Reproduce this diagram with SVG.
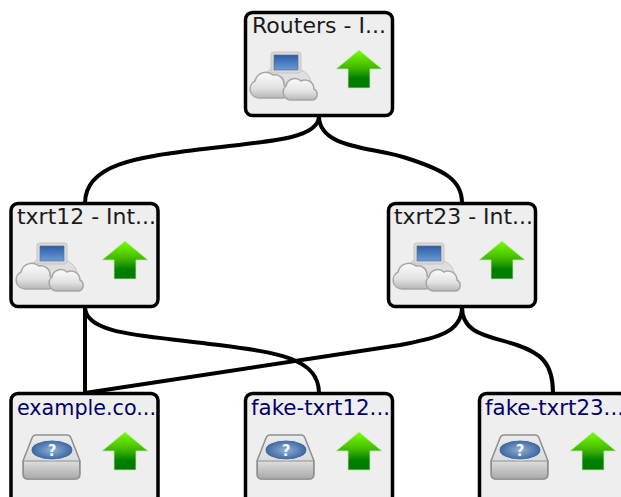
<svg xmlns="http://www.w3.org/2000/svg" width="621" height="497" viewBox="0 0 621 497">
<style>
.box{fill:#eeeeee;stroke:#000;stroke-width:3.500}
.t{font-family:"DejaVu Sans",Verdana,sans-serif;font-size:20.500px;fill:#1a1a1a}
.l{fill:#000066}
.c{fill:none;stroke:#000;stroke-width:4}
</style>
<defs>
<linearGradient id="g" x1="0" y1="0" x2="0" y2="1"><stop offset="0" stop-color="#77ff00"/><stop offset=".45" stop-color="#44bb00"/><stop offset=".75" stop-color="#007f00"/><stop offset="1" stop-color="#007a00"/></linearGradient>
<linearGradient id="sc" x1="0" y1="0" x2="0" y2="1"><stop offset="0" stop-color="#2a5ea8"/><stop offset="1" stop-color="#6a9ad6"/></linearGradient>
<linearGradient id="cl" x1="0" y1="0" x2="0" y2="1"><stop offset="0" stop-color="#fbfbfb"/><stop offset=".6" stop-color="#e2e2e2"/><stop offset="1" stop-color="#b8b8b8"/></linearGradient>
<linearGradient id="dk" x1="0" y1="0" x2="0" y2="1"><stop offset="0" stop-color="#ececec"/><stop offset="1" stop-color="#d0d0d0"/></linearGradient>
<linearGradient id="dp" x1="0" y1="0" x2="0" y2="1"><stop offset="0" stop-color="#dedede"/><stop offset="1" stop-color="#a8a8a8"/></linearGradient>
<radialGradient id="dq" cx=".5" cy=".5" r=".6"><stop offset="0" stop-color="#8fb0d8"/><stop offset="1" stop-color="#2a568f"/></radialGradient>
<g id="arrow"><path d="M0 0L23 19H11V38H-11V19H-23Z" fill="url(#g)" stroke="#c8e8b0" stroke-width=".8"/></g>
<g id="net">
<path d="M14 24Q18 17 24 18H46Q56 19 60 30L56 40H14Z" fill="#dfdfdf" stroke="#c2c2c2"/>
<rect x="20" y="1" width="30" height="21" rx="2.500" fill="#d8d8d8" stroke="#c6c6c6"/>
<rect x="23" y="4" width="24" height="15" fill="url(#sc)" stroke="#5a6c82" stroke-width=".6"/>
<path d="M8 47A9 9 0 0 1 4 30A11 11 0 0 1 22 24A9 9 0 0 1 33 34A7 7 0 0 1 32 47Z" fill="url(#cl)" stroke="#a6a6a6" stroke-width="1.500"/>
<path d="M39 49A8 8 0 0 1 35 35A9 9 0 0 1 50 30A9 9 0 0 1 63 38A6 6 0 0 1 62 49Z" fill="url(#cl)" stroke="#a6a6a6" stroke-width="1.500"/>
</g>
<g id="disk">
<path d="M13 0H44Q47 0 48 3L57 26V39Q57 44 52 44H5Q0 44 0 39V26L9 3Q10 0 13 0Z" fill="url(#dk)" stroke="#8e8e8e" stroke-width="1.500"/>
<path d="M0.500 26H56.500V39Q56.500 44 52 44H5Q0.500 44 0.500 39Z" fill="url(#dp)" stroke="#8e8e8e"/>
<ellipse cx="29" cy="15" rx="21" ry="10" fill="url(#dq)" stroke="#e4e9ef"/>
<text x="29" y="21" text-anchor="middle" font-family="'DejaVu Sans',sans-serif" font-weight="bold" font-size="15" fill="#f4f4f4">?</text>
</g>
</defs>
<g id="connectors">
<path class="c" d="M319 116C319 138 275 141 203 149C140 157 85 163 85 203"/>
<path class="c" d="M319 116C319 148 370 147 403 157C445 170 462 180 462 203"/>
<path class="c" d="M85 307C85 335 150 336 203 343C270 352 319 355 319 393"/>
<path class="c" d="M85 307V393"/>
<path class="c" d="M462 307C462 335 430 339 400 345L85 393"/>
<path class="c" d="M462 307C462 335 490 336 517 345C540 353 553 362 553 393"/>
</g>
<g id="routers">
<rect class="box" x="245.500" y="12.500" width="147" height="103" rx="7"/>
<text class="t" x="252" y="33" textLength="134" lengthAdjust="spacingAndGlyphs">Routers - I...</text>
<use href="#net" x="251" y="51"/>
<use href="#arrow" x="359" y="50"/>
</g>
<g id="txrt12">
<rect class="box" x="11" y="203.500" width="147" height="103" rx="7"/>
<text class="t" x="17" y="224" textLength="139" lengthAdjust="spacingAndGlyphs">txrt12 - Int...</text>
<use href="#net" x="17" y="242"/>
<use href="#arrow" x="125" y="241"/>
</g>
<g id="txrt23">
<rect class="box" x="388.500" y="203.500" width="147" height="103" rx="7"/>
<text class="t" x="394" y="224" textLength="139" lengthAdjust="spacingAndGlyphs">txrt23 - Int...</text>
<use href="#net" x="394" y="242"/>
<use href="#arrow" x="502" y="241"/>
</g>
<g id="example">
<rect class="box" x="11" y="393.500" width="147" height="110" rx="7"/>
<text class="t l" x="17" y="415" textLength="139" lengthAdjust="spacingAndGlyphs">example.co...</text>
<use href="#disk" x="23" y="435"/>
<use href="#arrow" x="125" y="432"/>
</g>
<g id="fake12">
<rect class="box" x="245.500" y="393.500" width="147" height="110" rx="7"/>
<text class="t l" x="251" y="415" textLength="139" lengthAdjust="spacingAndGlyphs">fake-txrt12...</text>
<use href="#disk" x="257" y="435"/>
<use href="#arrow" x="359" y="432"/>
</g>
<g id="fake23">
<rect class="box" x="479.500" y="393.500" width="147" height="110" rx="7"/>
<text class="t l" x="485" y="415" textLength="139" lengthAdjust="spacingAndGlyphs">fake-txrt23...</text>
<use href="#disk" x="491" y="435"/>
<use href="#arrow" x="593" y="432"/>
</g>
</svg>
